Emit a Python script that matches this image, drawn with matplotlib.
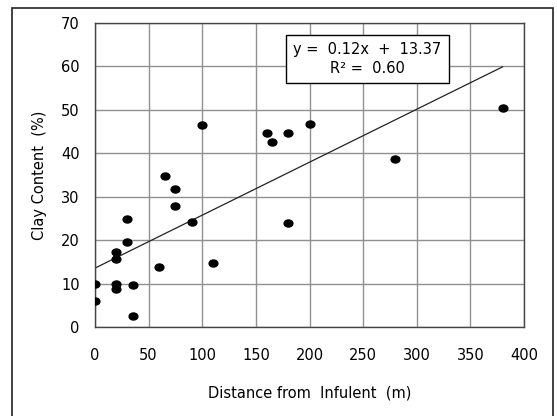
import numpy as np
import matplotlib
matplotlib.use('Agg')
import matplotlib.pyplot as plt
from matplotlib.patches import Rectangle
from matplotlib.path import Path
from matplotlib.transforms import Affine2D

# data
distance = [0, 0, 20, 20, 20, 20, 30, 30, 35, 35, 60, 65, 75, 75, 90,
            100, 110, 160, 165, 180, 180, 200, 280, 380]
clay = [10, 6, 17.3, 15.7, 10, 8.8, 24.8, 19.6, 9.8, 2.6, 13.8, 34.8, 31.7, 27.8, 24.3,
        46.6, 14.8, 44.8, 42.7, 44.8, 23.9, 46.8, 38.8, 50.4]
fit_label = 'y =  0.12x  +  13.37\nR² =  0.60'
x_ticks = [0, 50, 100, 150, 200, 250, 300, 350, 400]
y_ticks = [0, 10, 20, 30, 40, 50, 60, 70]

plt.rcParams['font.family'] = 'DejaVu Sans'
plt.rcParams['font.size'] = 10.5

fig = plt.figure(figsize=(5.57, 4.16), dpi=100)
fig.patches.append(Rectangle((12 / 557, -0.05), 541 / 557, 1 - 8 / 416 + 0.05,
                             transform=fig.transFigure, fill=False,
                             edgecolor='#222222', linewidth=1.2))

ax = fig.add_axes([95 / 557, 1 - 327.3 / 416, 429 / 557, 304.3 / 416])

# slightly flattened dot marker
dot = Path.unit_circle().transformed(Affine2D().scale(1.0, 0.8))
ax.scatter(distance, clay, marker=dot, s=40, color='black', zorder=3)

# linear trend line over the data range
slope, intercept = np.polyfit(distance, clay, 1)
xs = np.array([min(distance), max(distance)])
ax.plot(xs, slope * xs + intercept, color='#222222', linewidth=0.9, zorder=2)

ax.text(0.635, 0.882, fit_label, transform=ax.transAxes, ha='center', va='center',
        linespacing=1.35,
        bbox=dict(boxstyle='square,pad=0.5', facecolor='white', edgecolor='black',
                  linewidth=1.0), zorder=4)

ax.set_xlim(0, 400)
ax.set_ylim(0, 70)
ax.set_xticks(x_ticks)
ax.set_yticks(y_ticks)
ax.tick_params(length=0)
ax.tick_params(axis='y', pad=11)
ax.tick_params(axis='x', pad=15)
ax.grid(True, color='#909090', linewidth=1.0)
ax.set_axisbelow(True)
for s in ax.spines.values():
    s.set_color('#444444')
    s.set_linewidth(1.0)

ax.set_xlabel('Distance from  Infulent  (m)', labelpad=16)
ax.set_ylabel('Clay Content  (%)', labelpad=10)

fig.savefig('out.png', dpi=100)
